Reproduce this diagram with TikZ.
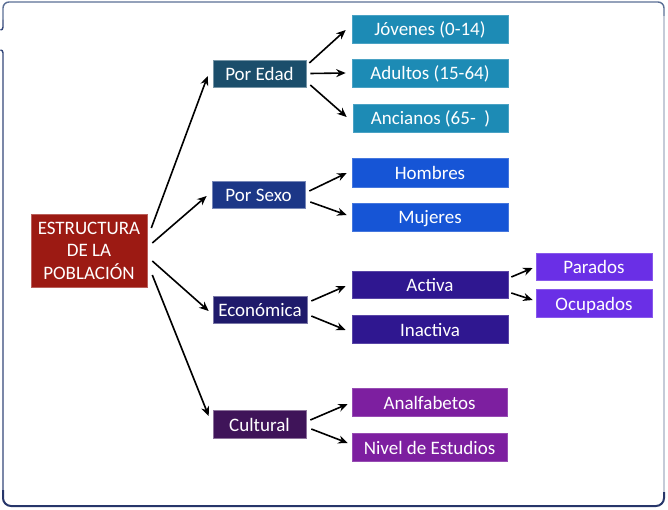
\documentclass[tikz,border=0pt]{standalone}
\usepackage{fontspec}
\setmainfont{Carlito}
\usetikzlibrary{arrows.meta,calc}
\definecolor{cRoot}{HTML}{9C1A13}
\definecolor{cEdad}{HTML}{1B4E6B}
\definecolor{cEdadK}{HTML}{1D8BB5}
\definecolor{cSexo}{HTML}{1C3787}
\definecolor{cSexoK}{HTML}{1655D6}
\definecolor{cEcon}{HTML}{1F1A6B}
\definecolor{cEconK}{HTML}{2F1790}
\definecolor{cEconKK}{HTML}{6A2FE6}
\definecolor{cCult}{HTML}{3F1459}
\definecolor{cCultK}{HTML}{7D1FA0}
\definecolor{frTop}{HTML}{5B6F95}
\definecolor{frLeft}{HTML}{34467A}
\definecolor{frRight}{HTML}{C5CBD8}
\definecolor{frBot}{HTML}{27366A}
\tikzset{
  box/.style={rectangle, inner sep=0pt, text=white, align=center,
    font=\fontsize{19}{22.5}\selectfont, line width=0.6pt},
  one/.style={box, text height=14pt, text depth=0pt},
  arr/.style={-{Stealth[length=9.5pt,width=8pt]}, line width=1.6pt, black},
}
\begin{document}
\begin{tikzpicture}[x=1pt,y=-1pt]
\useasboundingbox (0,0) rectangle (668,510);
% frame
\draw[frTop, line width=1.4pt, rounded corners=6pt] (3,20) -- (3,2) -- (664,2) -- (664,16);
\draw[frLeft, line width=1.4pt] (3,20) -- (3,27) .. controls (3,29) and (2,30) .. (0.5,30);
\draw[frRight, line width=1.2pt] (664,16) -- (664,492);
\draw[frBot, line width=2pt, rounded corners=8pt] (664,492) -- (664,506) -- (3,506) -- (3,490);
\draw[frLeft, line width=1.4pt] (3,490) -- (3,53) .. controls (3,51) and (2,50) .. (0.5,50);
% nodes
\node[box, fill=cRoot, draw=cRoot!70!white, minimum width=116pt, minimum height=73pt] (root) at (89,250.5) {ESTRUCTURA\\DE LA\\POBLACIÓN};
\node[one, fill=cEdad, draw=cEdad!60!white, minimum width=93pt, minimum height=27pt] (edad) at (259.5,73.5) {Por Edad};
\node[one, fill=cSexo, draw=cSexo!60!white, minimum width=93pt, minimum height=27pt] (sexo) at (258.5,194.5) {Por Sexo};
\node[one, fill=cEcon, draw=cEcon!60!white, minimum width=94pt, minimum height=27pt] (econ) at (260,309.5) {Económica};
\node[one, fill=cCult, draw=cCult!60!white, minimum width=93pt, minimum height=28pt] (cult) at (259.5,424) {Cultural};
\node[one, fill=cEdadK, draw=cEdadK!80!white, minimum width=156pt, minimum height=28pt] (jov) at (430,29) {Jóvenes (0-14)};
\node[one, fill=cEdadK, draw=cEdadK!80!white, minimum width=156pt, minimum height=28pt] (adu) at (430,73) {Adultos (15-64)};
\node[one, fill=cEdadK, draw=cEdadK!80!white, minimum width=155pt, minimum height=28pt] (anc) at (430.5,118) {Ancianos (65-\ \ )};
\node[one, fill=cSexoK, draw=cSexoK!80!white, minimum width=156pt, minimum height=29pt] (hom) at (430,172.5) {Hombres};
\node[one, fill=cSexoK, draw=cSexoK!80!white, minimum width=156pt, minimum height=28pt] (muj) at (430,217) {Mujeres};
\node[one, fill=cEconK, draw=cEconK!80!white, minimum width=156pt, minimum height=27pt] (act) at (430,284.5) {Activa};
\node[one, fill=cEconK, draw=cEconK!80!white, minimum width=156pt, minimum height=28pt] (inac) at (430,329) {Inactiva};
\node[one, fill=cEconKK, draw=cEconKK!80!white, minimum width=116pt, minimum height=27pt] (par) at (594,266.5) {Parados};
\node[one, fill=cEconKK, draw=cEconKK!80!white, minimum width=116pt, minimum height=28pt] (ocu) at (594,303) {Ocupados};
\node[one, fill=cCultK, draw=cCultK!80!white, minimum width=155pt, minimum height=28pt] (anal) at (429.5,402) {Analfabetos};
\node[one, fill=cCultK, draw=cCultK!80!white, minimum width=155pt, minimum height=28pt] (niv) at (429.5,447) {Nivel de Estudios};
% arrows
\draw[arr] ([shift={(4,-22.5)}]root.east) -- ([shift={(-5,2.5)}]edad.west);
\draw[arr] ([shift={(5,-7.5)}]root.east) -- ([shift={(-5,1.5)}]sexo.west);
\draw[arr] ([shift={(5,10.5)}]root.east) -- ([shift={(-4,1.5)}]econ.west);
\draw[arr] ([shift={(5,24.5)}]root.east) -- ([shift={(-4,-8)}]cult.west);
\draw[arr] ([shift={(3,-10.5)}]edad.east) -- ([shift={(-6,1)}]jov.west);
\draw[arr] ([shift={(4,0)}]edad.east) -- ([shift={(-6,0)}]adu.west);
\draw[arr] ([shift={(4,11.5)}]edad.east) -- ([shift={(-6,-1)}]anc.west);
\draw[arr] ([shift={(4,-3.5)}]sexo.east) -- ([shift={(-5,0.5)}]hom.west);
\draw[arr] ([shift={(5,7.5)}]sexo.east) -- ([shift={(-5,-2)}]muj.west);
\draw[arr] ([shift={(4,-8.5)}]econ.east) -- ([shift={(-6,1.5)}]act.west);
\draw[arr] ([shift={(4,6.5)}]econ.east) -- ([shift={(-6,1)}]inac.west);
\draw[arr] ([shift={(4,-4)}]cult.east) -- ([shift={(-4,2)}]anal.west);
\draw[arr] ([shift={(5,5)}]cult.east) -- ([shift={(-4,-4)}]niv.west);
\draw[arr] ([shift={(3,-7.5)}]act.east) -- ([shift={(-3,1.5)}]par.west);
\draw[arr] ([shift={(3,8.5)}]act.east) -- ([shift={(-3,-3)}]ocu.west);
\end{tikzpicture}
\end{document}
